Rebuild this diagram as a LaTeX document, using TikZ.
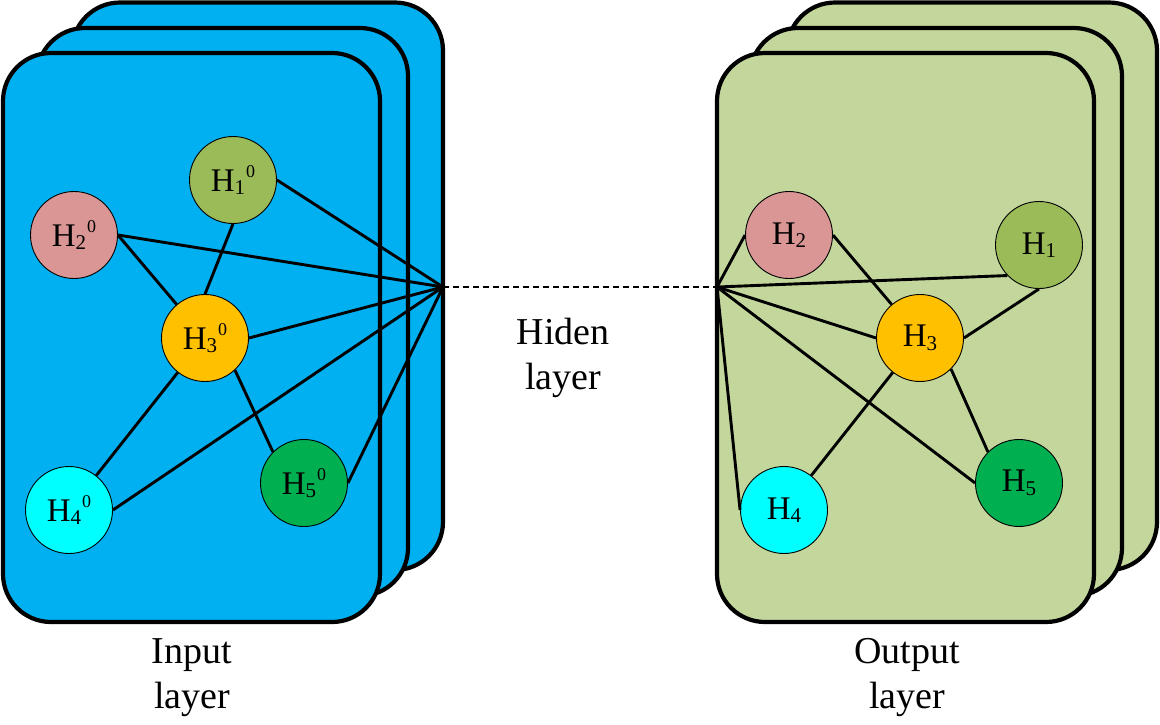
\documentclass[tikz,border=0pt]{standalone}
\usepackage{fontspec}
\setmainfont{Liberation Serif}
\definecolor{inblue}{HTML}{00B0F0}
\definecolor{outgreen}{HTML}{C3D69B}
\definecolor{hone}{HTML}{9BBB59}
\definecolor{htwo}{HTML}{D99694}
\definecolor{hthree}{HTML}{FFC000}
\definecolor{hfour}{HTML}{00FFFF}
\definecolor{hfive}{HTML}{00B050}
\newcommand{\Hsub}[1]{H\raisebox{-3.5pt}{\fontsize{21}{21}\selectfont #1}}
\newcommand{\Hsubsup}[2]{\Hsub{#1}\kern1pt\raisebox{14pt}{\fontsize{18}{18}\selectfont #2}}
\tikzset{
  card/.style={draw=black, line width=4.2pt, rounded corners=48pt},
  neuron/.style={circle, draw=black, line width=0.9pt, minimum size=87pt, inner sep=0pt, font=\fontsize{33}{33}\selectfont},
  link/.style={line width=2.9pt},
  caption/.style={align=center, anchor=north, inner sep=0pt, font=\fontsize{38}{45}\selectfont}
}
\begin{document}
\begin{tikzpicture}[x=1pt,y=-1pt]
\useasboundingbox (0,0) rectangle (1160,724);
% left stack
\draw[card, fill=inblue] (72,2.5) rectangle (443,570);
\draw[card, fill=inblue] (37,28) rectangle (408,596);
\draw[card, fill=inblue] (3,53) rectangle (380,622);
% right stack
\draw[card, fill=outgreen] (787,2.5) rectangle (1157,570);
\draw[card, fill=outgreen] (750,28) rectangle (1122,596);
\draw[card, fill=outgreen] (717,53) rectangle (1094,622);
\coordinate (lhub) at (443,287);
\coordinate (rhub) at (717,287);
% left nodes
\node[neuron, fill=hone] (a1) at (233,180) {\Hsubsup{1}{0}};
\node[neuron, fill=htwo] (a2) at (74,235) {\Hsubsup{2}{0}};
\node[neuron, fill=hthree] (a3) at (205,338) {\Hsubsup{3}{0}};
\node[neuron, fill=hfour] (a4) at (69,510) {\Hsubsup{4}{0}};
\node[neuron, fill=hfive] (a5) at (304,483) {\Hsubsup{5}{0}};
% right nodes
\node[neuron, fill=hone] (b1) at (1039,245) {\Hsub{1}};
\node[neuron, fill=htwo] (b2) at (789,235) {\Hsub{2}};
\node[neuron, fill=hthree] (b3) at (920,338) {\Hsub{3}};
\node[neuron, fill=hfour] (b4) at (784,510) {\Hsub{4}};
\node[neuron, fill=hfive] (b5) at (1019,483) {\Hsub{5}};
% left links
\draw[link] (a1.east) -- (lhub);
\draw[link] (a2.east) -- (lhub);
\draw[link] (a3.east) -- (lhub);
\draw[link] (a4.east) -- (lhub);
\draw[link] (a5.east) -- (lhub);
\draw[link] (a1.south) -- (a3.north);
\draw[link] (a2.east) -- (a3);
\draw[link] (a3) -- (a4);
\draw[link] (a3.-47) -- (a5.135);
% right links
\draw[link] (rhub) -- (b2.west);
\draw[link] (rhub) -- (b1.224);
\draw[link] (rhub) -- (b3.west);
\draw[link] (rhub) -- (b5.west);
\draw[link] (rhub) -- (b4.west);
\draw[link] (b2.east) -- (b3);
\draw[link] (b1.south) -- (b3.east);
\draw[link] (b3) -- (b4);
\draw[link] (b3.-45) -- (b5.135);
% hidden link
\draw[link, dash pattern=on 6pt off 4pt] (lhub) -- (rhub);
% captions
\node[caption] (inlab) at (192,638) {Input\\layer};
\node[caption] (hidlab) at (563,318) {Hiden\\layer};
\node[caption] (outlab) at (907,638) {Output\\layer};
\end{tikzpicture}
\end{document}
